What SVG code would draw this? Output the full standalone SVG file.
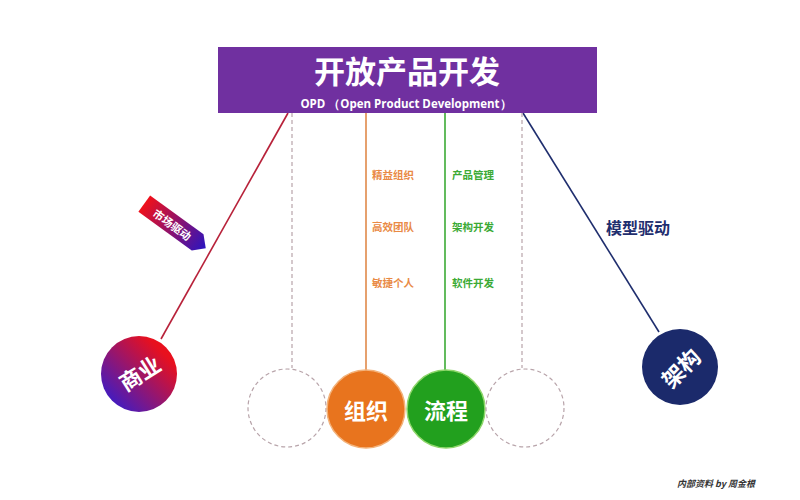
<svg xmlns="http://www.w3.org/2000/svg" width="800" height="500" viewBox="0 0 800 500">
<style>
.cjk{font-family:"Noto Sans CJK SC","Liberation Sans",sans-serif;}
.lbl{font-size:10.5px;font-weight:bold;}
.org{fill:#E98A45;}
.grn{fill:#3BAA35;}
.big{font-size:22px;font-weight:bold;fill:#fff;text-anchor:middle;dominant-baseline:central;}
.dash{fill:none;stroke:#B8A4AA;stroke-width:1.2;stroke-dasharray:4 3;}
</style>
<defs>
<linearGradient id="rb" x1="1" y1="0" x2="0" y2="1">
<stop offset="0.2" stop-color="#E8101E"/>
<stop offset="0.9" stop-color="#3A1CC8"/>
</linearGradient>
<linearGradient id="rb2" x1="0" y1="0" x2="1" y2="0">
<stop offset="0" stop-color="#F0101A"/>
<stop offset="1" stop-color="#2A14C0"/>
</linearGradient>
</defs>
<rect width="800" height="500" fill="#fff"/>
<g id="connectors">
<line x1="288" y1="113" x2="161" y2="339" stroke="#B8223A" stroke-width="1.6"/>
<line x1="523" y1="113" x2="659" y2="332" stroke="#1F2E6E" stroke-width="1.6"/>
<line x1="366" y1="113" x2="366" y2="371" stroke="#E0894A" stroke-width="1.6"/>
<line x1="445" y1="113" x2="445" y2="371" stroke="#3BAA35" stroke-width="1.6"/>
<line x1="292" y1="113" x2="292" y2="368" class="dash"/>
<line x1="522" y1="113" x2="522" y2="368" class="dash"/>
</g>
<g id="title">
<rect x="218" y="47" width="379" height="66" fill="#7030A0"/>
<text x="407" y="83" class="cjk" font-size="31" font-weight="bold" fill="#fff" text-anchor="middle">开放产品开发</text>
<text x="406" y="108" font-family="'Open Sans','Liberation Sans',sans-serif" font-size="11.5" font-weight="bold" fill="#fff" text-anchor="middle">OPD （Open Product Development）</text>
</g>
<g id="labels-org" class="cjk lbl org">
<text x="372" y="179">精益组织</text>
<text x="372" y="231">高效团队</text>
<text x="372" y="287">敏捷个人</text>
</g>
<g id="labels-flow" class="cjk lbl grn">
<text x="452" y="179">产品管理</text>
<text x="452" y="231">架构开发</text>
<text x="452" y="287">软件开发</text>
</g>
<g id="market-arrow" transform="translate(175,226) rotate(36)">
<path d="M-38,-10 L28,-10 L38,0 L28,10 L-38,10 Z" fill="url(#rb2)"/>
<text x="-3" y="0" class="cjk" font-size="11" font-weight="bold" fill="#fff" text-anchor="middle" dominant-baseline="central">市场驱动</text>
</g>
<g id="model-label">
<text x="638" y="234" class="cjk" font-size="16" font-weight="bold" fill="#1F2E6E" text-anchor="middle">模型驱动</text>
</g>
<g id="business">
<circle cx="139" cy="374" r="38" fill="url(#rb)"/>
<text transform="translate(139,372) rotate(-32)" class="cjk big">商业</text>
</g>
<g id="architecture">
<circle cx="680" cy="367" r="38" fill="#1B2A6B"/>
<text transform="translate(680,367) rotate(-45)" class="cjk big">架构</text>
</g>
<g id="empty-left"><circle cx="287" cy="408" r="39" class="dash"/></g>
<g id="organization">
<circle cx="366" cy="409" r="39" fill="#E8741E" stroke="#F3B27A" stroke-width="1.5"/>
<text x="366" y="409" class="cjk big" font-size="20">组织</text>
</g>
<g id="process">
<circle cx="446" cy="409" r="39" fill="#22A01E" stroke="#8FD66B" stroke-width="1.5"/>
<text x="446" y="409" class="cjk big" font-size="20" fill="#E8FFE0">流程</text>
</g>
<g id="empty-right"><circle cx="525" cy="408" r="39" class="dash"/></g>
<text x="716" y="487" class="cjk" font-size="9" font-weight="bold" font-style="italic" fill="#333" text-anchor="middle">内部资料 by 周金根</text>
</svg>
